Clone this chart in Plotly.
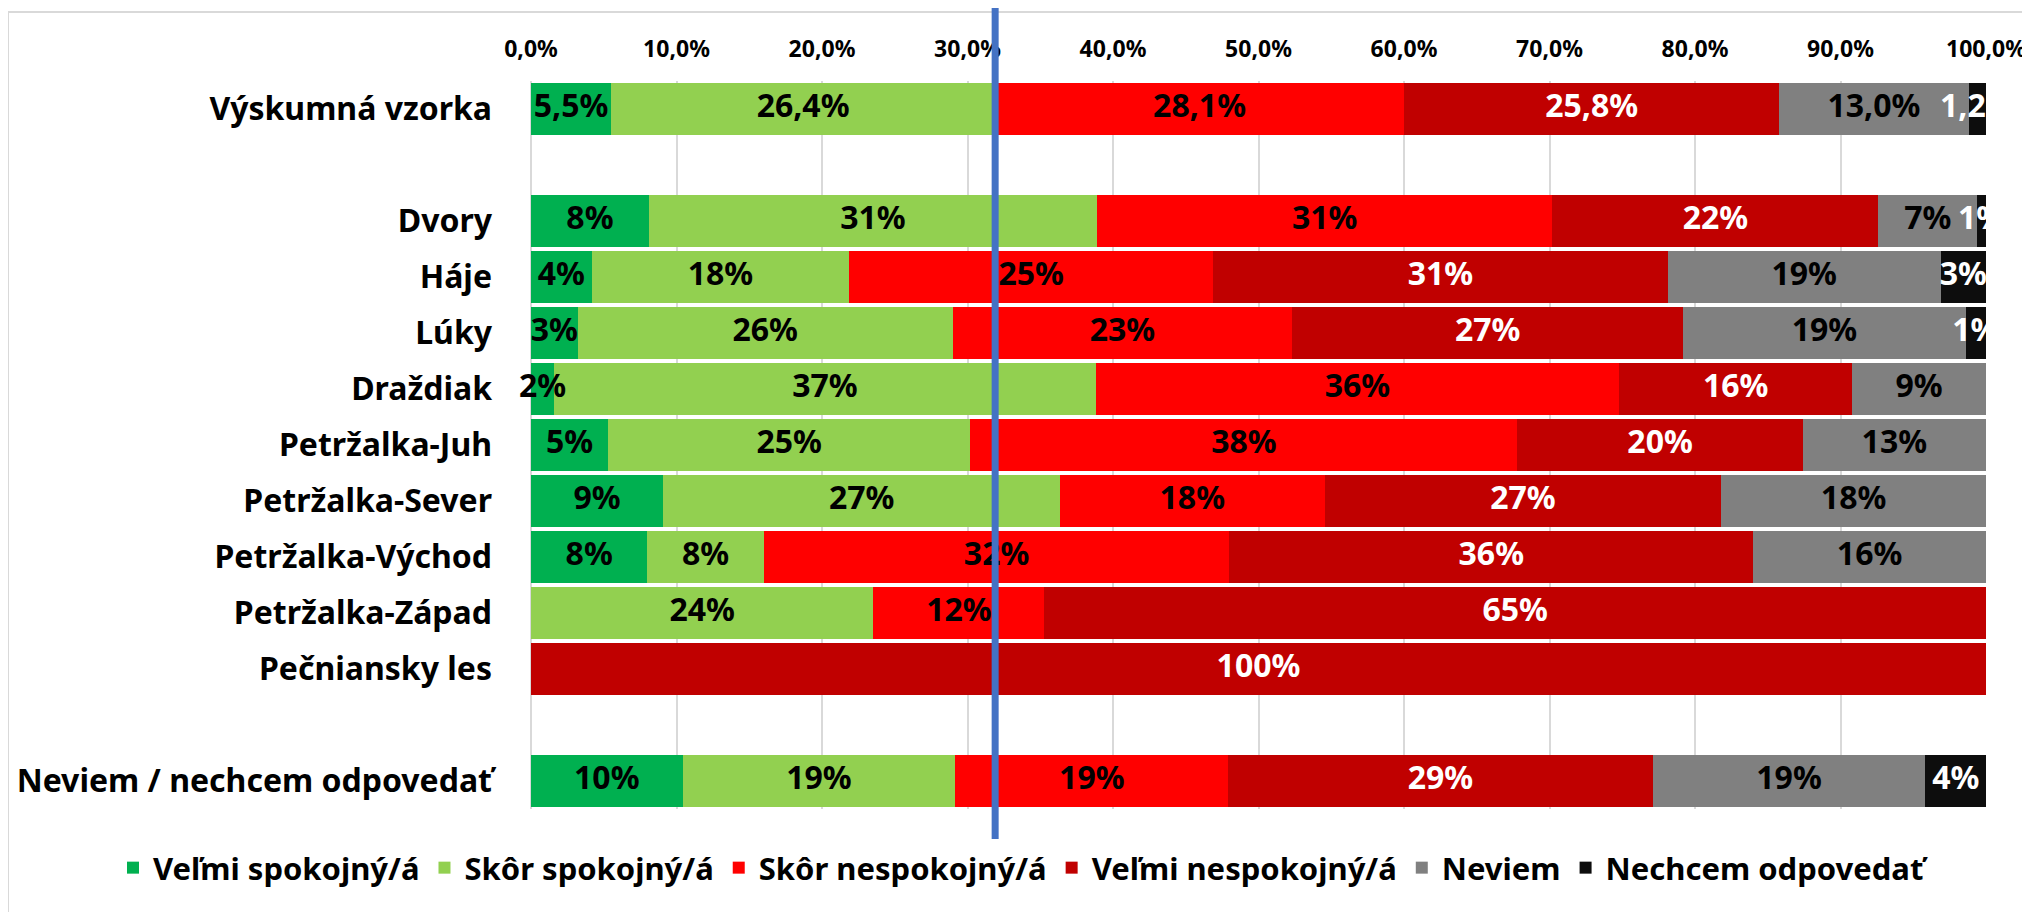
import plotly.graph_objects as go

# ---- data ----
categories = ["Výskumná vzorka", "Dvory", "Háje", "Lúky", "Draždiak",
              "Petržalka-Juh", "Petržalka-Sever", "Petržalka-Východ",
              "Petržalka-Západ", "Pečniansky les", "Neviem / nechcem odpovedať"]
row_order = ["Výskumná vzorka", " ", "Dvory", "Háje", "Lúky", "Draždiak",
             "Petržalka-Juh", "Petržalka-Sever", "Petržalka-Východ",
             "Petržalka-Západ", "Pečniansky les", "  ", "Neviem / nechcem odpovedať"]

series_names = ["Veľmi spokojný/á", "Skôr spokojný/á", "Skôr nespokojný/á",
                "Veľmi nespokojný/á", "Neviem", "Nechcem odpovedať"]

velmi_spokojny = [5.5, 8.1, 4.17, 3.2, 1.6, 5.3, 9.09, 8.0, 0, 0, 10.42]
skor_spokojny = [26.4, 30.8, 17.71, 25.8, 37.2, 24.9, 27.27, 8.0, 23.53, 0, 18.75]
skor_nespokojny = [28.1, 31.3, 25.0, 23.3, 36.0, 37.6, 18.18, 32.0, 11.76, 0, 18.75]
velmi_nespokojny = [25.8, 22.4, 31.25, 26.9, 16.0, 19.6, 27.27, 36.0, 64.71, 100, 29.17]
neviem = [13.0, 6.8, 18.75, 19.4, 9.2, 12.6, 18.18, 16.0, 0, 0, 18.75]
nechcem = [1.2, 0.6, 3.13, 1.4, 0, 0, 0, 0, 0, 0, 4.17]

x_ticks = [0, 10, 20, 30, 40, 50, 60, 70, 80, 90, 100]

# ---- style ----
colors = ["#00B050", "#92D050", "#FF0000", "#C00000", "#808080", "#0D0D0D"]
label_colors = ["black", "black", "black", "white", "black", "white"]
FONT = "Noto Sans"

L, R, T, B = 523, 52, 73, 111
W, H = 2030, 912
PW, PH = W - L - R, H - T - B

all_series = [velmi_spokojny, skor_spokojny, skor_nespokojny,
              velmi_nespokojny, neviem, nechcem]

fig = go.Figure()

for name, vals, col in zip(series_names, all_series, colors):
    fig.add_trace(go.Bar(
        y=categories, x=vals, name=name, orientation="h",
        marker=dict(color=col, line=dict(width=0)),
        hoverinfo="skip",
    ))

# data labels centred on segments
cum = [0.0] * len(categories)
for k, (vals, tcol) in enumerate(zip(all_series, label_colors)):
    xs, ys, ts = [], [], []
    for i, v in enumerate(vals):
        if v > 0:
            xs.append(cum[i] + v / 2)
            ys.append(categories[i])
            if i == 0:
                ts.append(("%.1f" % v).replace(".", ",") + "%")
            else:
                ts.append("%.0f%%" % v)
        cum[i] += v
    fig.add_trace(go.Scatter(
        x=xs, y=ys, text=ts, mode="text", showlegend=False,
        textfont=dict(color=tcol, size=32, family=FONT, weight="bold"),
        textposition="middle center", hoverinfo="skip",
        cliponaxis=(k != 0),
    ))

satisfied_sample = velmi_spokojny[0] + skor_spokojny[0]

fig.update_layout(
    width=W, height=H,
    barmode="stack", bargap=0.08,
    separators=", ",
    paper_bgcolor="white", plot_bgcolor="white",
    margin=dict(l=L, r=R, t=T, b=B, autoexpand=False),
    font=dict(family=FONT, size=32, color="black", weight="bold"),
    xaxis=dict(
        side="top", range=[0, 100], tickvals=x_ticks,
        ticktext=[("%.1f" % t).replace(".", ",") + "%" for t in x_ticks],
        tickfont=dict(size=23, family=FONT, color="black", weight="bold"),
        showgrid=True, gridcolor="#D9D9D9", gridwidth=2,
        zeroline=True, zerolinecolor="#D9D9D9", zerolinewidth=2,
        showline=False, ticks="", ticklabelstandoff=18,
    ),
    yaxis=dict(
        type="category", categoryorder="array", categoryarray=row_order,
        range=[len(row_order) - 0.5, -0.5],
        tickfont=dict(size=32, family=FONT, color="black", weight="bold"),
        showgrid=False, zeroline=False, showline=False, ticks="",
        ticklabelstandoff=38,
    ),
    legend=dict(
        orientation="h", xref="paper", yref="paper",
        x=(105 - L) / PW, xanchor="left",
        y=-(860 - (H - B)) / PH, yanchor="middle",
        font=dict(size=31, family=FONT, color="black", weight="bold"),
        traceorder="normal", itemclick=False, itemdoubleclick=False,
    ),
    shapes=[
        dict(type="rect", xref="paper", yref="paper",
             x0=-L / PW, x1=1.05, y0=-0.2, y1=1 + (T - 4) / PH,
             line=dict(color="#D9D9D9", width=2), layer="below"),
        dict(type="line", xref="x", yref="paper",
             x0=satisfied_sample, x1=satisfied_sample,
             y0=-(831 - (H - B)) / PH, y1=1 + T / PH,
             line=dict(color="#4472C4", width=7), layer="above"),
    ],
)

fig.write_html("out.html")
